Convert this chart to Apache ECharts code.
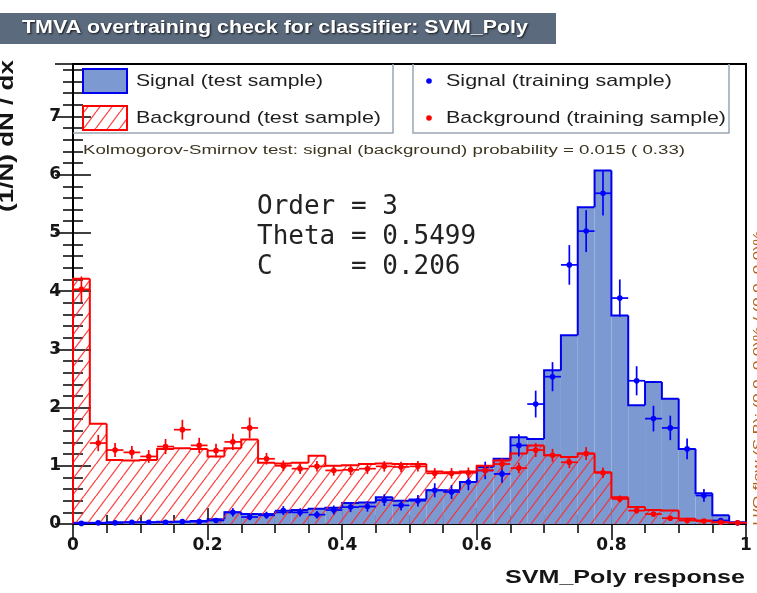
<!DOCTYPE html>
<html>
<head>
<meta charset="utf-8">
<script src="https://cdn.jsdelivr.net/npm/echarts@6/dist/echarts.min.js"></script>
<style>
  html, body { margin: 0; padding: 0; background: #ffffff; }
  #chart { width: 757px; height: 593px; }
</style>
</head>
<body>
<div id="chart"></div>
<script>
// Classifier response histogram: 40 equal bins on [0, 1]
const nBins = 40;
const xRange = [0, 1];

// Test-sample histograms, normalised (1/N) dN/dx
const signalTest = [
  0.02, 0.02, 0.03, 0.03, 0.03, 0.04, 0.04, 0.05, 0.08, 0.20,
  0.17, 0.17, 0.20, 0.24, 0.26, 0.28, 0.36, 0.37, 0.46, 0.40,
  0.42, 0.58, 0.58, 0.72, 0.98, 1.12, 1.49, 1.46, 2.64, 3.24,
  5.44, 6.07, 3.58, 2.04, 2.44, 2.15, 1.29, 0.53, 0.15, 0.03
];
const backgroundTest = [
  4.21, 1.72, 1.10, 1.09, 1.10, 1.29, 1.30, 1.29, 1.16, 1.30,
  1.45, 1.05, 1.04, 1.05, 1.17, 1.00, 1.01, 1.03, 1.04, 1.03,
  1.03, 0.90, 0.89, 0.90, 1.00, 1.09, 1.21, 1.35, 1.18, 1.15,
  1.21, 0.89, 0.46, 0.29, 0.24, 0.23, 0.09, 0.06, 0.03, 0.02
];

// Training-sample points and their statistical errors
const signalTrain = [
  0.01, 0.02, 0.02, 0.03, 0.03, 0.03, 0.04, 0.04, 0.06, 0.20,
  0.12, 0.15, 0.23, 0.20, 0.16, 0.24, 0.29, 0.30, 0.41, 0.32,
  0.40, 0.58, 0.55, 0.72, 0.92, 0.86, 1.35, 2.06, 2.53, 4.45,
  5.03, 5.68, 3.88, 2.46, 1.81, 1.65, 1.29, 0.49, 0.06, 0.02
];
const signalTrainErr = [
  0.016, 0.023, 0.023, 0.028, 0.028, 0.028, 0.032, 0.032, 0.039, 0.072,
  0.055, 0.062, 0.077, 0.072, 0.064, 0.078, 0.086, 0.088, 0.10, 0.09,
  0.10, 0.12, 0.12, 0.14, 0.15, 0.15, 0.19, 0.23, 0.25, 0.34,
  0.36, 0.38, 0.32, 0.25, 0.22, 0.21, 0.18, 0.11, 0.039, 0.023
];
const backgroundTrain = [
  4.03, 1.39, 1.27, 1.23, 1.16, 1.33, 1.62, 1.35, 1.26, 1.41,
  1.65, 1.12, 1.00, 0.95, 0.99, 0.92, 0.93, 0.95, 0.99, 0.98,
  0.99, 0.87, 0.87, 0.88, 0.92, 1.03, 0.96, 1.27, 1.18, 1.06,
  1.21, 0.88, 0.43, 0.23, 0.17, 0.10, 0.06, 0.05, 0.03, 0.02
];
const backgroundTrainErr = [
  0.22, 0.14, 0.12, 0.11, 0.11, 0.13, 0.17, 0.13, 0.12, 0.14,
  0.18, 0.10, 0.09, 0.09, 0.09, 0.09, 0.09, 0.09, 0.09, 0.09,
  0.09, 0.09, 0.09, 0.09, 0.09, 0.10, 0.09, 0.12, 0.11, 0.10,
  0.11, 0.09, 0.06, 0.05, 0.04, 0.03, 0.03, 0.02, 0.02, 0.02
];

// Axis ticks
const xTickValues = [0, 0.2, 0.4, 0.6, 0.8, 1];
const yTickValues = [0, 1, 2, 3, 4, 5, 6, 7];

// Fit parameters and annotations shown on the canvas
const paramLines = ['Order = 3', 'Theta = 0.5499', 'C     = 0.206'];
const ksText = 'Kolmogorov-Smirnov test: signal (background) probability = 0.015 ( 0.33)';
const flowText = 'U/O-flow (S,B): (0.0, 0.0)% / (0.0, 0.0)%';

const binWidth = (xRange[1] - xRange[0]) / nBins;
const SANS = "'Liberation Sans', Arial, Helvetica, sans-serif";
const WIDE = "'DejaVu Sans', 'Liberation Sans', sans-serif";
const MONO = "'DejaVu Sans Mono', monospace";
const SIG_FILL = '#7d99d1';
const SIG_LINE = '#0000ee';
const BKG_LINE = '#ff0000';

// Horizontal scale needed for a text run to span a given width
const measureCtx = document.createElement('canvas').getContext('2d');
function fitScale(text, weight, size, family, width) {
  measureCtx.font = weight + ' ' + size + 'px ' + family;
  return width / measureCtx.measureText(text).width;
}

// Diagonal hatch tile for the background histogram
function makeHatch(w, h, color, lw) {
  const c = document.createElement('canvas');
  c.width = w; c.height = h;
  const g = c.getContext('2d');
  g.strokeStyle = color;
  g.lineWidth = lw;
  g.beginPath();
  for (let k = -1; k <= 1; k++) {
    g.moveTo(k * w, h);
    g.lineTo(k * w + w, 0);
  }
  g.stroke();
  return c;
}
const hatchTile = makeHatch(12, 16, 'rgba(255,40,40,0.85)', 1.3);

function histItems(vals) {
  return vals.map((v, i) => [xRange[0] + i * binWidth, xRange[0] + (i + 1) * binWidth, v, i > 0 ? vals[i - 1] : 0, i === vals.length - 1 ? 1 : 0]);
}
function pointItems(vals, errs) {
  return vals.map((v, i) => [xRange[0] + (i + 0.5) * binWidth, v, errs[i], binWidth / 2]);
}

function histRenderer(fill, stroke) {
  return function (params, api) {
    const lo = api.value(0), hi = api.value(1), v = api.value(2), prev = api.value(3), last = api.value(4);
    const base = api.coord([lo, 0]);
    const top = api.coord([hi, v]);
    const prevPt = api.coord([lo, prev]);
    const pts = [[base[0], prevPt[1]], [base[0], top[1]], [top[0], top[1]]];
    if (last) pts.push([top[0], base[1]]);
    return {
      type: 'group',
      children: [
        { type: 'rect', shape: { x: base[0], y: top[1], width: top[0] - base[0], height: base[1] - top[1] },
          style: { fill: fill, stroke: null } },
        { type: 'polyline', shape: { points: pts },
          style: { fill: null, stroke: stroke, lineWidth: 2 } }
      ]
    };
  };
}

function pointRenderer(color) {
  return function (params, api) {
    const c = api.value(0), v = api.value(1), e = api.value(2), hw = api.value(3);
    const left = api.coord([c - hw, v]);
    const right = api.coord([c + hw, v]);
    const lowP = api.coord([c, Math.max(0, v - e)]);
    const highP = api.coord([c, v + e]);
    return {
      type: 'group',
      children: [
        { type: 'line', shape: { x1: left[0], y1: left[1], x2: right[0], y2: right[1] }, style: { stroke: color, lineWidth: 1.7 } },
        { type: 'line', shape: { x1: lowP[0], y1: lowP[1], x2: highP[0], y2: highP[1] }, style: { stroke: color, lineWidth: 1.7 } },
        { type: 'circle', shape: { cx: (left[0] + right[0]) / 2, cy: left[1], r: 2.8 }, style: { fill: color } }
      ]
    };
  };
}

const tickLine = { color: '#000', width: 1.5 };
const tickLabel = { fontFamily: WIDE, fontWeight: 'bold', fontSize: 17, color: '#151515' };
function xAxisDef(pos, labels) {
  return {
    type: 'value', position: pos, min: xRange[0], max: xRange[1], interval: 0.2,
    axisLine: { show: false },
    splitLine: { show: false },
    axisTick: { show: true, inside: true, length: 16, lineStyle: tickLine },
    minorTick: { show: true, splitNumber: 4, length: 9, lineStyle: tickLine },
    axisLabel: Object.assign({
      show: labels, margin: 13,
      formatter: v => { const t = xTickValues.find(k => Math.abs(k - v) < 1e-9); return t === undefined ? '' : String(t); }
    }, tickLabel)
  };
}
function yAxisDef(pos, labels) {
  return {
    type: 'value', position: pos, min: 0, max: 7.9, interval: 1,
    axisLine: { show: false },
    splitLine: { show: false },
    axisTick: { show: true, inside: true, length: 18, lineStyle: tickLine },
    minorTick: { show: true, splitNumber: 5, length: 10, lineStyle: tickLine },
    axisLabel: Object.assign({
      show: labels, margin: 12, showMaxLabel: false,
      formatter: v => { const t = yTickValues.find(k => Math.abs(k - v) < 1e-9); return t === undefined ? '' : String(t); }
    }, tickLabel)
  };
}

// A text element stretched horizontally to a target run length
function spanText(text, x, y, width, opts) {
  const weight = opts.weight || 'normal';
  const size = opts.size;
  const family = opts.family || SANS;
  const s = fitScale(text, weight, size, family, width);
  return {
    type: 'text', z: 10, x: x, y: y, scaleX: s, rotation: opts.rotation || 0,
    style: Object.assign({
      text: text, fontFamily: family, fontWeight: weight, fontSize: size,
      fill: opts.color || '#1e1e1e', align: opts.align || 'left', verticalAlign: 'middle'
    }, opts.extra || {})
  };
}

const chart = echarts.init(document.getElementById('chart'), null, { renderer: 'canvas' });

chart.setOption({
  animation: false,
  backgroundColor: '#ffffff',
  grid: { left: 73, top: 64, width: 673, height: 460, show: true, borderColor: '#000', borderWidth: 2, backgroundColor: 'transparent' },
  xAxis: [xAxisDef('bottom', true), xAxisDef('top', false)],
  yAxis: [yAxisDef('left', true), yAxisDef('right', false)],
  series: [
    { name: 'Signal (test sample)', type: 'custom', xAxisIndex: 0, yAxisIndex: 0, z: 2,
      renderItem: histRenderer(SIG_FILL, SIG_LINE), data: histItems(signalTest) },
    { name: 'Background (test sample)', type: 'custom', xAxisIndex: 0, yAxisIndex: 0, z: 3,
      renderItem: histRenderer({ image: hatchTile, repeat: 'repeat' }, BKG_LINE), data: histItems(backgroundTest) },
    { name: 'Signal (training sample)', type: 'custom', xAxisIndex: 0, yAxisIndex: 0, z: 4,
      renderItem: pointRenderer('#0000ff'), data: pointItems(signalTrain, signalTrainErr) },
    { name: 'Background (training sample)', type: 'custom', xAxisIndex: 0, yAxisIndex: 0, z: 5,
      renderItem: pointRenderer('#ff0000'), data: pointItems(backgroundTrain, backgroundTrainErr) }
  ],
  graphic: [
    // title banner
    { type: 'rect', x: 0, y: 13, shape: { width: 556, height: 31 }, style: { fill: '#5b6a7d' }, z: 10 },
    spanText('TMVA overtraining check for classifier: SVM_Poly', 275, 28.5, 506,
      { weight: 'bold', size: 18, color: '#ffffff', align: 'center',
        extra: { textShadowColor: 'rgba(0,0,0,0.8)', textShadowBlur: 2, textShadowOffsetX: 1, textShadowOffsetY: 1 } }),
    // axis titles
    spanText('(1/N) dN / dx', 7, 136, 152, { weight: 'bold', size: 21, color: '#151515', align: 'center', rotation: Math.PI / 2 }),
    spanText('SVM_Poly response', 745, 578, 240, { weight: 'bold', size: 19, color: '#151515', align: 'right' }),
    // legend boxes
    { type: 'polyline', z: 10, shape: { points: [[73, 133], [393, 133], [393, 64]] }, style: { fill: null, stroke: '#9aa6b2', lineWidth: 1.5 } },
    { type: 'polyline', z: 10, shape: { points: [[413, 64], [413, 133], [729, 133], [729, 64]] }, style: { fill: null, stroke: '#9aa6b2', lineWidth: 1.5 } },
    { type: 'rect', z: 10, shape: { x: 83, y: 69, width: 44, height: 24 }, style: { fill: SIG_FILL, stroke: SIG_LINE, lineWidth: 2 } },
    { type: 'rect', z: 10, shape: { x: 83, y: 106, width: 44, height: 24 }, style: { fill: { image: hatchTile, repeat: 'repeat' }, stroke: BKG_LINE, lineWidth: 2 } },
    spanText('Signal (test sample)', 136, 81, 187, { size: 17 }),
    spanText('Background (test sample)', 136, 118, 245, { size: 17 }),
    { type: 'circle', z: 10, shape: { cx: 429, cy: 81, r: 2.8 }, style: { fill: '#0000ff' } },
    { type: 'circle', z: 10, shape: { cx: 429, cy: 118, r: 2.8 }, style: { fill: '#ff0000' } },
    spanText('Signal (training sample)', 446, 81, 226, { size: 17 }),
    spanText('Background (training sample)', 446, 118, 280, { size: 17 }),
    // Kolmogorov-Smirnov line
    spanText(ksText, 83, 151, 602, { size: 12.5, color: '#3b3420' }),
    // classifier parameters
    { type: 'text', z: 10, x: 257, y: 207, style: { text: paramLines[0], fontFamily: MONO, fontSize: 26, fill: '#222', verticalAlign: 'middle' } },
    { type: 'text', z: 10, x: 257, y: 237, style: { text: paramLines[1], fontFamily: MONO, fontSize: 26, fill: '#222', verticalAlign: 'middle' } },
    { type: 'text', z: 10, x: 257, y: 267, style: { text: paramLines[2], fontFamily: MONO, fontSize: 26, fill: '#222', verticalAlign: 'middle' } },
    // under/overflow note along the right edge
    spanText(flowText, 759, 378, 295, { size: 12, color: '#b0641e', align: 'center', rotation: Math.PI / 2 })
  ]
});
</script>
</body>
</html>
